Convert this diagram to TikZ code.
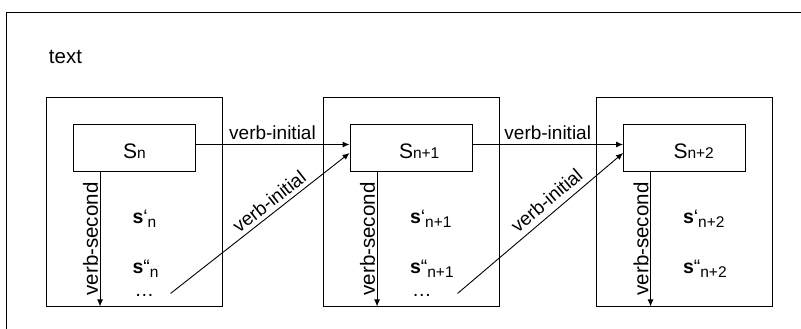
\documentclass[tikz,border=0pt]{standalone}
\usepackage{fontspec}
\setmainfont{Liberation Sans}
\usetikzlibrary{arrows.meta,positioning}
\newcommand{\sidx}[1]{{\fontsize{15.5}{18}\selectfont #1}}
\newcommand{\lidx}[1]{\raisebox{-4pt}{\fontsize{15.5}{18}\selectfont #1}}
\tikzset{
	groupbox/.style={draw, minimum width=176pt, minimum height=209pt, inner sep=0pt},
	sentbox/.style={draw, minimum width=122pt, minimum height=47pt, inner sep=0pt},
	link/.style={-{Latex[length=7pt,width=6pt]}},
	lbl/.style={font=\fontsize{19}{22}\selectfont, inner sep=4pt},
	vlbl/.style={font=\fontsize{20.5}{24}\selectfont, inner sep=1.5pt, rotate=90, anchor=south},
	hlbl/.style={font=\fontsize{21}{24}\selectfont, anchor=base west, inner sep=0pt},
	slbl/.style={font=\fontsize{19.5}{22}\selectfont, anchor=base west, inner sep=0pt},
}
\begin{document}
\begin{tikzpicture}[x=1pt, y=-1pt, line width=0.9pt]
	\useasboundingbox (0,0) rectangle (801,329);
	% frame and title
	\draw (801,12) -- (6,12) -- (6,329);
	\node[lbl, font=\fontsize{20.5}{24}\selectfont, anchor=base west, inner sep=0pt] (title) at (48.5,64) {text};
	% groups
	\node[groupbox] (g1) at (134,201.5) {};
	\node[groupbox] (g2) at (411,201.5) {};
	\node[groupbox] (g3) at (684.5,201.5) {};
	\node[sentbox, below=27pt of g1.north] (s1) {};
	\node[sentbox, below=27pt of g2.north] (s2) {};
	\node[sentbox, below=27pt of g3.north] (s3) {};
	\node[hlbl] (h1) at ([shift={(50,11)}]s1.west) {S\sidx{n}};
	\node[hlbl] (h2) at ([shift={(49,11)}]s2.west) {S\sidx{n+1}};
	\node[hlbl] (h3) at ([shift={(50,11)}]s3.west) {S\sidx{n+2}};
	% variants
	\node[slbl] (a1) at ([shift={(59.5,52)}]s1.south west) {\textbf{s}‘\lidx{n}};
	\node[slbl] (b1) at ([shift={(59.5,102)}]s1.south west) {\textbf{s}“\lidx{n}};
	\node[slbl] (c1) at ([shift={(61.5,125)}]s1.south west) {…};
	\node[slbl] (a2) at ([shift={(60,52)}]s2.south west) {\textbf{s}‘\lidx{n+1}};
	\node[slbl] (b2) at ([shift={(60,102)}]s2.south west) {\textbf{s}“\lidx{n+1}};
	\node[slbl] (c2) at ([shift={(62,125)}]s2.south west) {…};
	\node[slbl] (a3) at ([shift={(59.5,52)}]s3.south west) {\textbf{s}‘\lidx{n+2}};
	\node[slbl] (b3) at ([shift={(59.5,102)}]s3.south west) {\textbf{s}“\lidx{n+2}};
	% verb-second
	\draw[link] ([xshift=27.5pt]s1.south west) -- ([xshift=27.5pt]s1.south west |- g1.south) node[midway, vlbl] {verb-second};
	\draw[link] ([xshift=27.5pt]s2.south west) -- ([xshift=27.5pt]s2.south west |- g2.south) node[midway, vlbl] {verb-second};
	\draw[link] ([xshift=27.5pt]s3.south west) -- ([xshift=27.5pt]s3.south west |- g3.south) node[midway, vlbl] {verb-second};
	% verb-initial
	\draw[link] ([yshift=3pt]s1.east) -- ([yshift=3pt]s2.west) node[midway, above, lbl] {verb-initial};
	\draw[link] ([yshift=3pt]s2.east) -- ([yshift=3pt]s3.west) node[midway, above, lbl] {verb-initial};
	\coordinate (d1) at ([shift={(98,122)}]s1.south west);
	\coordinate (d2) at ([shift={(108,122)}]s2.south west);
	\draw[link] (d1) -- ([yshift=-5.5pt]s2.west) node[pos=0.59, above, sloped, lbl] {verb-initial};
	\draw[link] (d2) -- ([yshift=-5.5pt]s3.west) node[pos=0.59, above, sloped, lbl, inner sep=6pt] {verb-initial};
\end{tikzpicture}
\end{document}
